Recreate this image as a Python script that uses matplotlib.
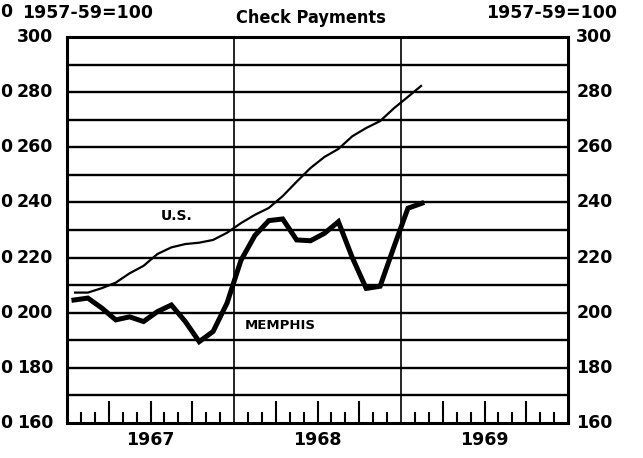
import matplotlib
matplotlib.use("Agg")
import matplotlib.pyplot as plt
import numpy as np

# ---- data (monthly, Jan 1967 .. Feb 1969) ----
us_values = [207.3, 207.3, 208.9, 210.9, 214.3, 217.0, 221.3, 223.7, 224.9, 225.4, 226.4, 229.0,
             232.5, 235.5, 238.0, 242.3, 247.5, 252.5, 256.5, 259.4, 264.0, 267.0, 269.5, 274.2,
             278.3, 282.5]
memphis_values = [204.6, 205.3, 201.7, 197.4, 198.5, 196.8, 200.4, 202.8, 196.8, 189.5, 193.2, 203.5,
                  219.0, 228.0, 233.4, 234.0, 226.4, 226.1, 228.8, 233.0, 220.0, 208.8, 209.6, 224.0,
                  237.9, 239.7]
year_labels = ["1967", "1968", "1969"]
y_ticks = [160, 180, 200, 220, 240, 260, 280, 300]

FONT = "DejaVu Sans"

fig = plt.figure(figsize=(6.43, 4.58), dpi=100)
ax = fig.add_axes([67/643, 1-423/458, (568-67)/643, (423-37)/458])

months = np.arange(len(us_values)) + 0.5
ax.set_xlim(0, 36)
ax.set_ylim(160, 300)

# horizontal grid every 10
for v in range(170, 300, 10):
    ax.axhline(v, color="black", lw=1.7, zorder=1)
# year separators
for yx in (12, 24):
    ax.axvline(yx, color="black", lw=1.2, zorder=1)

ax.plot(months, us_values, color="black", lw=1.6, zorder=3, solid_capstyle="butt")
ax.plot(months, memphis_values, color="black", lw=3.6, zorder=3, solid_joinstyle="miter")

# monthly ticks (quarters taller)
for m in range(1, 36):
    if m % 12 == 0:
        continue
    h = 7.9 if m % 3 == 0 else 4.0
    ax.plot([m, m], [160, 160 + h], color="black", lw=1.5, zorder=2, solid_capstyle="butt")

for s in ax.spines.values():
    s.set_linewidth(2.2)
ax.set_xticks([])
ax.set_yticks([])

# y labels both sides
for v in y_ticks:
    ax.text(-1.0, v, str(v), ha="right", va="center", fontsize=12.5, fontweight="bold",
            family=FONT, transform=ax.transData, clip_on=False)
    ax.text(36.6, v, str(v), ha="left", va="center", fontsize=12.5, fontweight="bold",
            family=FONT, transform=ax.transData, clip_on=False)

# partial labels from neighbouring panel at left edge
for v in [160, 180, 200, 220, 240, 260, 280]:
    fig.text(0.0, 1 - (92 + (280 - v) * 2.76) / 458, "0", ha="left", va="center",
             fontsize=12.5, fontweight="bold", family=FONT)
fig.text(0.0, 1 - 12/458, "0", ha="left", va="center", fontsize=12.5, fontweight="bold", family=FONT)

# year labels
for i, lab in enumerate(year_labels):
    ax.text(6 + 12*i, 160 - 3.0, lab, ha="center", va="top", fontsize=12.5, fontweight="bold",
            family=FONT, clip_on=False)

# headings
fig.text(22/643, 1 - 12.5/458, "1957-59=100", ha="left", va="center", fontsize=12.5,
         fontweight="bold", family=FONT)
fig.text(617/643, 1 - 12.5/458, "1957-59=100", ha="right", va="center", fontsize=12.5,
         fontweight="bold", family=FONT)
fig.text(311/643, 1 - 18/458, "Check Payments", ha="center", va="center", fontsize=13,
         fontweight="bold", family=FONT, fontstretch="condensed")

# series labels
ax.text(7.9, 235, "U.S.", ha="center", va="center", fontsize=10, fontweight="bold", family=FONT)
ax.text(15.3, 195.2, "MEMPHIS", ha="center", va="center", fontsize=9.5, fontweight="bold", family=FONT)

fig.savefig("out.png", dpi=100, facecolor="white")
